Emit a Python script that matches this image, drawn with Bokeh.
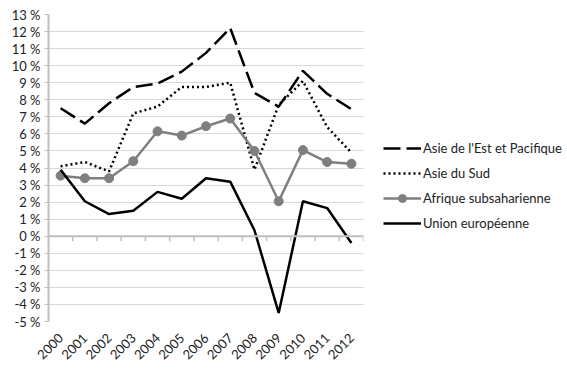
from bokeh.plotting import figure
from bokeh.models import Legend, LegendItem, Span, FixedTicker, Range1d
from bokeh.embed import file_html
from bokeh.resources import INLINE
import math

years = ["2000", "2001", "2002", "2003", "2004", "2005", "2006",
         "2007", "2008", "2009", "2010", "2011", "2012"]
asie_est = [7.5, 6.6, 7.8, 8.75, 8.95, 9.65, 10.75, 12.2, 8.4, 7.6, 9.7, 8.35, 7.45]
asie_sud = [4.1, 4.35, 3.8, 7.2, 7.6, 8.75, 8.75, 9.0, 3.9, 7.7, 9.1, 6.4, 4.9]
afrique = [3.55, 3.4, 3.4, 4.4, 6.15, 5.9, 6.45, 6.9, 5.0, 2.05, 5.05, 4.35, 4.25]
ue = [3.9, 2.05, 1.3, 1.5, 2.6, 2.2, 3.4, 3.2, 0.35, -4.5, 2.05, 1.65, -0.4]
y_ticks = list(range(-5, 14))

labels = ["Asie de l'Est et Pacifique", "Asie du Sud",
          "Afrique subsaharienne", "Union européenne"]

FONT = "Lato"
xs = list(range(len(years)))

p = figure(output_backend="svg", toolbar_location=None,
           frame_width=315, frame_height=307,
           min_border_left=48, min_border_top=14, min_border_bottom=40,
           min_border_right=195,
           x_range=Range1d(-0.5, len(years) - 0.5), y_range=Range1d(-5, 13))
p.outline_line_color = None
p.background_fill_color = "white"

# axes
p.yaxis.ticker = FixedTicker(ticks=y_ticks)
p.yaxis.major_label_overrides = {v: f"{v} %" for v in y_ticks}
p.yaxis.axis_line_color = "#bfbfbf"
p.yaxis.axis_line_width = 2
p.yaxis.major_tick_line_color = "#bfbfbf"
p.yaxis.major_tick_out = 4
p.yaxis.major_tick_in = 0
p.yaxis.minor_tick_line_color = None
p.yaxis.major_label_text_font = FONT
p.yaxis.major_label_text_font_size = "13px"
p.yaxis.major_label_text_color = "#222222"
p.yaxis.major_label_standoff = 4

p.xaxis.ticker = FixedTicker(ticks=xs)
p.xaxis.major_label_overrides = {i: y for i, y in enumerate(years)}
p.xaxis.major_label_orientation = math.pi / 4
p.xaxis.axis_line_color = None
p.xaxis.major_tick_line_color = None
p.xaxis.minor_tick_line_color = None
p.xaxis.major_label_text_font = FONT
p.xaxis.major_label_text_font_size = "13px"
p.xaxis.major_label_text_color = "#222222"
p.xaxis.major_label_standoff = 8

p.xgrid.grid_line_color = None
p.ygrid.grid_line_color = "#b0b0b0"
p.ygrid.grid_line_dash = "1 1"
p.ygrid.grid_line_width = 1

# zero line with category tick marks
p.add_layout(Span(location=0, dimension="width", line_color="#bfbfbf", line_width=2))
bounds = [i + 0.5 for i in xs]
p.segment(x0=bounds, y0=[0] * len(bounds), x1=bounds, y1=[-0.3] * len(bounds),
          line_color="#bfbfbf", line_width=1.5)

r1 = p.line(xs, asie_est, line_color="black", line_width=2.5, line_dash="17 6")
r2 = p.line(xs, asie_sud, line_color="black", line_width=2.5, line_dash="2 3")
r3 = p.line(xs, afrique, line_color="#7f7f7f", line_width=2.5)
r3m = p.scatter(xs, afrique, size=9, fill_color="#7f7f7f", line_color="#7f7f7f")
r4 = p.line(xs, ue, line_color="black", line_width=2.5)

legend = Legend(items=[
    LegendItem(label=labels[0], renderers=[r1]),
    LegendItem(label=labels[1], renderers=[r2]),
    LegendItem(label=labels[2], renderers=[r3, r3m]),
    LegendItem(label=labels[3], renderers=[r4]),
], location=(20, 88))
legend.border_line_color = None
legend.background_fill_alpha = 0
legend.padding = 0
legend.margin = 0
legend.spacing = 5
legend.glyph_width = 38
legend.glyph_height = 20
legend.label_standoff = 2
legend.label_text_font = FONT
legend.label_text_font_size = "13px"
legend.label_text_color = "#222222"
p.add_layout(legend, "right")

open("out.html", "w").write(file_html(p, INLINE))
